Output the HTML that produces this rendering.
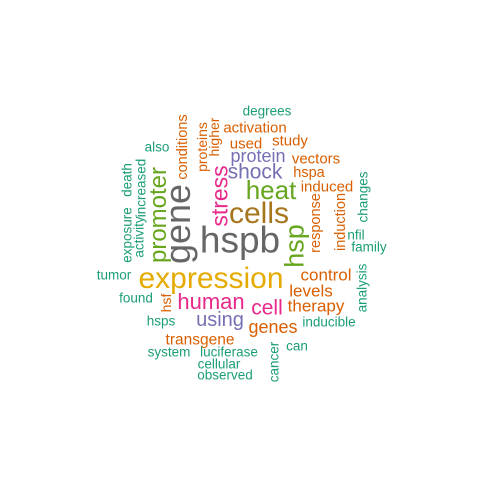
<!DOCTYPE html>
<html><head><meta charset="utf-8"><style>
html,body{margin:0;padding:0;background:#fff;}
#cloud{position:relative;width:480px;height:480px;overflow:hidden;font-family:"Liberation Sans",Arial,sans-serif;}
#cloud span{position:absolute;line-height:1;white-space:nowrap;transform:translate(-50%,-50%);}
#cloud span.v{transform:translate(-50%,-50%) rotate(-90deg);}
</style></head><body>
<div id="cloud"></div>
<script>
const words = ["hspb","gene","expression","cells","heat","hsp","promoter","stress","shock","human","cell","using","protein","levels","control","therapy","genes","transgene","response","induction","induced","hspa","vectors","study","used","activation","degrees","higher","proteins","conditions","also","increased","death","activity","exposure","tumor","found","hsf","hsps","system","luciferase","cellular","observed","cancer","can","inducible","analysis","changes","nfil","family"];
const sizes = [37,36,30,30,26,27,24,23,21,22,21,20,18,17,17,17,18,15.5,14.5,14.5,15,14.5,15,15,15,15,13.5,14,14,14.5,13.5,13.5,13.5,13.5,13.5,13.5,13.5,14,13.5,13.5,13.5,13.5,13.5,13.5,13.5,13.5,13.5,13.5,13.5,13.5];
const colors = ["#666666","#666666","#E6AB02","#A6761D","#66A61E","#66A61E","#66A61E","#E7298A","#7570B3","#E7298A","#E7298A","#7570B3","#7570B3","#D95F02","#D95F02","#D95F02","#D95F02","#D95F02","#D95F02","#D95F02","#D95F02","#D95F02","#D95F02","#D95F02","#D95F02","#D95F02","#1B9E77","#D95F02","#D95F02","#D95F02","#1B9E77","#1B9E77","#1B9E77","#1B9E77","#1B9E77","#1B9E77","#1B9E77","#D95F02","#1B9E77","#1B9E77","#1B9E77","#1B9E77","#1B9E77","#1B9E77","#1B9E77","#1B9E77","#1B9E77","#1B9E77","#1B9E77","#1B9E77"];
const vertical = [0,1,0,0,0,1,1,1,0,0,0,0,0,0,0,0,0,0,1,1,0,0,0,0,0,0,0,1,1,1,0,1,1,1,1,0,0,1,0,0,0,0,0,1,0,0,1,1,0,0];
const cx = [240,178,211,259,271,295,159,220,255,211,267,220,258,311,326,316,273,200,316,341,327,309,316,290,246,255,267,214,202,183,157,141,127,139,127,114,136,166,161,169,229,219,225,274,297,329,362,363,356,369];
const cy = [240,224,279,214,190,246,215,196,172,302,308,320,156,291,275,306,327,340,223,222,187,173,159,141,144,128,111,137,147,147,147,188,180,237,235,275,298,303,321,352,352,364,375,362,346,322,288,197,235,247];
const cloud = document.getElementById('cloud');
words.forEach((w,i)=>{
  const el = document.createElement('span');
  
  
  el.textContent = w;
  el.style.left = cx[i] + 'px';
  el.style.top = cy[i] + 'px';
  el.style.fontSize = sizes[i] + 'px';
  el.style.color = colors[i];
  if (vertical[i]) el.className = 'v';
  cloud.appendChild(el);
});
</script>
</body></html>
